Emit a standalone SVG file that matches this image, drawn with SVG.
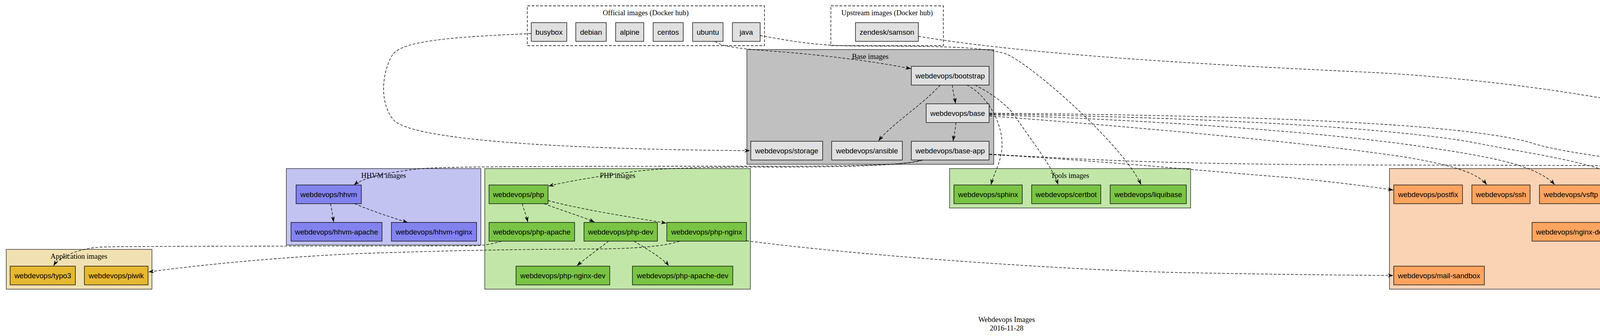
<svg xmlns="http://www.w3.org/2000/svg" width="5154" height="861" viewBox="0 0 5154 861">
<defs>
<marker id="vee" viewBox="0 0 14 10" refX="14" refY="5" markerWidth="14" markerHeight="10" markerUnits="userSpaceOnUse" orient="auto">
<path d="M0,0 L14,5 L0,10 L4,5 z" fill="#000"/>
</marker>
<style>
.cl{stroke:#222;stroke-width:1.33}
.dash{fill:none;stroke:#000;stroke-width:1.33;stroke-dasharray:7,4}
.n{stroke:#000;stroke-width:1.33}
.g{fill:#e0e0e0}
.hh{fill:#8282ee}
.ph{fill:#79c445}
.sv{fill:#fea460}
.ap{fill:#e5b830}
.t{font-family:"Liberation Sans",Arial,sans-serif;font-size:18.67px;text-anchor:middle;fill:#000}
.cl-t{font-family:"Liberation Serif","Times New Roman",serif;font-size:18.67px;text-anchor:middle;fill:#000}
.e{fill:none;stroke:#000;stroke-width:1.33;stroke-dasharray:7,4;marker-end:url(#vee)}
</style>
</defs>
<rect width="5154" height="861" fill="#fff"/>

<g id="cluster-official">
<rect class="dash" x="1350" y="15" width="607" height="102"/>
<text class="cl-t" x="1653" y="39">Official images (Docker hub)</text>
</g>
<g id="cluster-upstream">
<rect class="dash" x="2127" y="15" width="288" height="102"/>
<text class="cl-t" x="2271" y="39">Upstream images (Docker hub)</text>
</g>
<g id="cluster-base">
<rect class="cl" x="1912" y="127" width="632" height="294" fill="#c0c0c0"/>
<text class="cl-t" x="2228" y="151">Base images</text>
</g>
<g id="cluster-hhvm">
<rect class="cl" x="733" y="432" width="498" height="196" fill="#c3c3f2"/>
<text class="cl-t" x="982" y="456">HHVM images</text>
</g>
<g id="cluster-php">
<rect class="cl" x="1241" y="432" width="680" height="309" fill="#c2e6a8"/>
<text class="cl-t" x="1581" y="456">PHP images</text>
</g>
<g id="cluster-tools">
<rect class="cl" x="2431" y="432" width="617" height="101" fill="#c2e6a8"/>
<text class="cl-t" x="2739" y="456">Tools images</text>
</g>
<g id="cluster-app">
<rect class="cl" x="16" y="639" width="373" height="102" fill="#f1e1b2"/>
<text class="cl-t" x="202" y="663">Application images</text>
</g>
<g id="cluster-service">
<rect class="cl" x="3557" y="432" width="1468" height="309" fill="#fad3b4"/>
<text class="cl-t" x="4291" y="456">Service images</text>
</g>

<g id="connectors">
<path class="e" d="M1359,86 C1150,95 1030,105 1005,140 C975,190 972,270 1010,310 C1080,370 1600,384 1920,386"/>
<path class="e" d="M1831,106 C1850,125 1950,128 2050,137 C2180,150 2260,162 2332,176"/>
<path class="e" d="M1946,91 C2050,110 2100,117 2200,118 C2400,119 2520,118 2580,140 C2660,180 2880,380 2921,473"/>
<path class="e" d="M2351,93 C2600,135 3000,162 3500,185 C3900,205 4500,290 4827,473"/>
<path class="e" d="M2407,218 C2360,270 2280,320 2249,361"/>
<path class="e" d="M2438,218 C2440,240 2444,250 2446,265"/>
<path class="e" d="M2447,314 C2446,335 2442,345 2440,361"/>
<path class="e" d="M2475,218 C2520,240 2560,300 2565,360 C2568,410 2545,440 2537,473"/>
<path class="e" d="M2496,218 C2540,240 2580,270 2600,300 C2640,360 2690,420 2709,473"/>
<path class="e" d="M2533,297 C2900,325 3350,365 3600,403 C3700,420 3780,440 3806,473"/>
<path class="e" d="M2533,294 C3000,310 3400,340 3650,377 C3800,400 3930,420 3980,473"/>
<path class="e" d="M2533,292 C3000,300 3500,320 3760,363 C3950,400 4120,420 4173,473"/>
<path class="e" d="M2533,290 C3100,295 3700,310 3910,363 C4050,410 4320,410 4372,473"/>
<path class="e" d="M2533,396 C2800,410 3100,440 3300,455 C3450,470 3520,480 3567,487"/>
<path class="e" d="M2533,395 C2800,410 3000,422 3600,423 C4200,424 4480,425 4510,440 C4540,450 4560,465 4566,473"/>
<path class="e" d="M2355,411 C2320,422 2200,428 2000,428 C1800,428 1700,430 1620,440 C1530,452 1450,465 1404,477"/>
<path class="e" d="M2362,410 C2320,425 2150,426 1900,426 C1500,426 1150,426 1080,432 C1000,440 930,455 906,474"/>
<path class="e" d="M1337,522 C1342,540 1348,555 1351,569"/>
<path class="e" d="M1393,522 C1440,540 1490,555 1522,569"/>
<path class="e" d="M1403,514 C1500,540 1640,560 1706,572"/>
<path class="e" d="M1558,618 C1530,640 1495,665 1477,681"/>
<path class="e" d="M1623,618 C1660,640 1700,665 1712,681"/>
<path class="e" d="M1284,618 C1260,625 1240,630 1200,630 C900,631 400,630 260,633 C200,636 150,660 137,681"/>
<path class="e" d="M1740,618 C1700,632 1620,637 1530,638 C1300,639 1150,642 912,650 C700,660 500,680 380,697"/>
<path class="e" d="M1911,617 C2200,655 2700,690 3000,698 C3300,704 3450,705 3567,706"/>
<path class="e" d="M846,522 C850,540 852,555 854,569"/>
<path class="e" d="M908,522 C950,540 1010,560 1044,570"/>
<path class="e" d="M4351,523 C4310,540 4260,555 4200,565 C4160,570 4140,572 4124,577"/>
<path class="e" d="M4566,523 C4540,540 4500,555 4481,569"/>
</g>

<g id="busybox"><rect class="n g" x="1360" y="58" width="91" height="48"/><text class="t" x="1405.5" y="88.5">busybox</text></g>
<g id="debian"><rect class="n g" x="1474" y="58" width="78" height="48"/><text class="t" x="1513" y="88.5">debian</text></g>
<g id="alpine"><rect class="n g" x="1576" y="58" width="72" height="48"/><text class="t" x="1612" y="88.5">alpine</text></g>
<g id="centos"><rect class="n g" x="1672" y="58" width="77" height="48"/><text class="t" x="1710.5" y="88.5">centos</text></g>
<g id="ubuntu"><rect class="n g" x="1773" y="58" width="78" height="48"/><text class="t" x="1812" y="88.5">ubuntu</text></g>
<g id="java"><rect class="n g" x="1875" y="58" width="71" height="48"/><text class="t" x="1910.5" y="88.5">java</text></g>
<g id="zendesk-samson"><rect class="n g" x="2190" y="58" width="161" height="48"/><text class="t" x="2270.5" y="88.5">zendesk/samson</text></g>

<g id="bootstrap"><rect class="n g" x="2333" y="170" width="199" height="48"/><text class="t" x="2432.5" y="200.5">webdevops/bootstrap</text></g>
<g id="base"><rect class="n g" x="2371" y="266" width="161" height="48"/><text class="t" x="2451.5" y="296.5">webdevops/base</text></g>
<g id="storage"><rect class="n g" x="1922" y="362" width="184" height="48"/><text class="t" x="2014" y="392.5">webdevops/storage</text></g>
<g id="ansible"><rect class="n g" x="2129" y="362" width="181" height="48"/><text class="t" x="2219.5" y="392.5">webdevops/ansible</text></g>
<g id="base-app"><rect class="n g" x="2333" y="362" width="199" height="48"/><text class="t" x="2432.5" y="392.5">webdevops/base-app</text></g>

<g id="hhvm"><rect class="n hh" x="758" y="474" width="167" height="48"/><text class="t" x="841.5" y="504.5">webdevops/hhvm</text></g>
<g id="hhvm-apache"><rect class="n hh" x="745" y="570" width="233" height="48"/><text class="t" x="861.5" y="600.5">webdevops/hhvm-apache</text></g>
<g id="hhvm-nginx"><rect class="n hh" x="1002" y="570" width="218" height="48"/><text class="t" x="1111" y="600.5">webdevops/hhvm-nginx</text></g>

<g id="php"><rect class="n ph" x="1252" y="474" width="151" height="48"/><text class="t" x="1327.5" y="504.5">webdevops/php</text></g>
<g id="php-apache"><rect class="n ph" x="1252" y="570" width="219" height="48"/><text class="t" x="1361.5" y="600.5">webdevops/php-apache</text></g>
<g id="php-dev"><rect class="n ph" x="1495" y="570" width="188" height="48"/><text class="t" x="1589" y="600.5">webdevops/php-dev</text></g>
<g id="php-nginx"><rect class="n ph" x="1707" y="570" width="204" height="48"/><text class="t" x="1809" y="600.5">webdevops/php-nginx</text></g>
<g id="php-nginx-dev"><rect class="n ph" x="1321" y="682" width="240" height="48"/><text class="t" x="1441" y="712.5">webdevops/php-nginx-dev</text></g>
<g id="php-apache-dev"><rect class="n ph" x="1619" y="682" width="257" height="48"/><text class="t" x="1747.5" y="712.5">webdevops/php-apache-dev</text></g>

<g id="sphinx"><rect class="n ph" x="2442" y="474" width="175" height="48"/><text class="t" x="2529.5" y="504.5">webdevops/sphinx</text></g>
<g id="certbot"><rect class="n ph" x="2641" y="474" width="177" height="48"/><text class="t" x="2729.5" y="504.5">webdevops/certbot</text></g>
<g id="liquibase"><rect class="n ph" x="2842" y="474" width="195" height="48"/><text class="t" x="2939.5" y="504.5">webdevops/liquibase</text></g>

<g id="typo3"><rect class="n ap" x="26" y="682" width="167" height="48"/><text class="t" x="109.5" y="712.5">webdevops/typo3</text></g>
<g id="piwik"><rect class="n ap" x="216" y="682" width="163" height="48"/><text class="t" x="297.5" y="712.5">webdevops/piwik</text></g>

<g id="postfix"><rect class="n sv" x="3568" y="474" width="176" height="48"/><text class="t" x="3656" y="504.5">webdevops/postfix</text></g>
<g id="ssh"><rect class="n sv" x="3768" y="474" width="149" height="48"/><text class="t" x="3842.5" y="504.5">webdevops/ssh</text></g>
<g id="vsftp"><rect class="n sv" x="3941" y="474" width="161" height="48"/><text class="t" x="4021.5" y="504.5">webdevops/vsftp</text></g>
<g id="varnish"><rect class="n sv" x="4126" y="474" width="180" height="48"/><text class="t" x="4216" y="504.5">webdevops/varnish</text></g>
<g id="nginx"><rect class="n sv" x="4330" y="474" width="166" height="48"/><text class="t" x="4413" y="504.5">webdevops/nginx</text></g>
<g id="apache"><rect class="n sv" x="4519" y="474" width="182" height="48"/><text class="t" x="4610" y="504.5">webdevops/apache</text></g>
<g id="samson-deployment"><rect class="n sv" x="4726" y="474" width="289" height="48"/><text class="t" x="4870.5" y="504.5">webdevops/samson-deployment</text></g>
<g id="nginx-dev"><rect class="n sv" x="3922" y="570" width="201" height="48"/><text class="t" x="4022.5" y="600.5">webdevops/nginx-dev</text></g>
<g id="apache-dev"><rect class="n sv" x="4324" y="570" width="218" height="48"/><text class="t" x="4433" y="600.5">webdevops/apache-dev</text></g>
<g id="mail-sandbox"><rect class="n sv" x="3568" y="682" width="232" height="48"/><text class="t" x="3684" y="712.5">webdevops/mail-sandbox</text></g>

<g id="title">
<text class="cl-t" x="2577" y="825">Webdevops Images</text>
<text class="cl-t" x="2577" y="847">2016-11-28</text>
</g>
</svg>
